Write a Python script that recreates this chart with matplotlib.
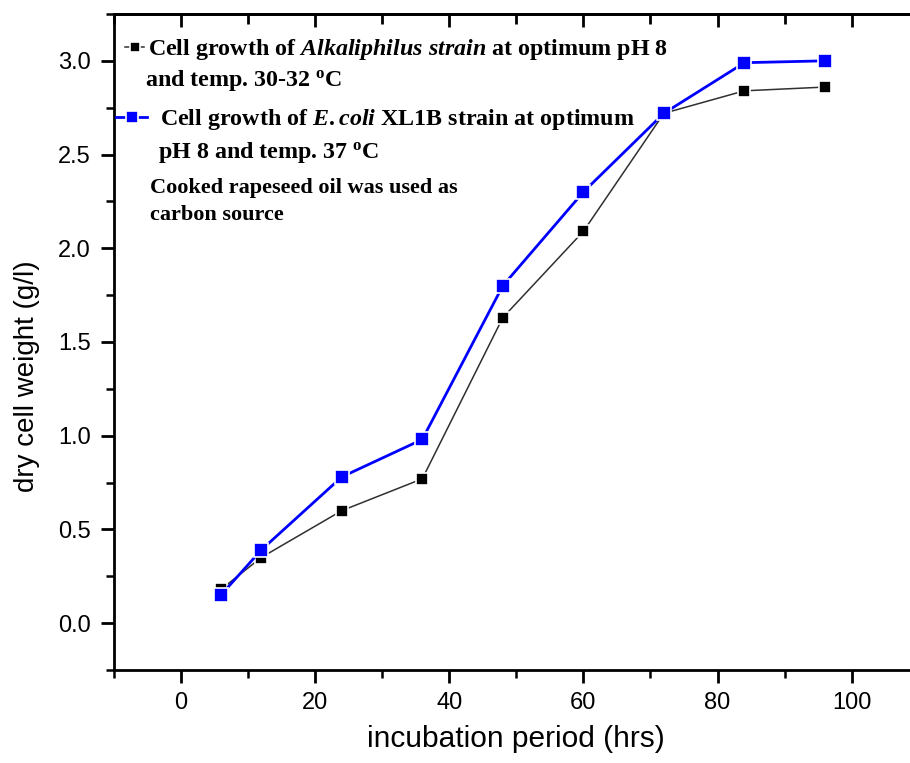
import matplotlib
matplotlib.use("Agg")
import matplotlib.pyplot as plt
from matplotlib.ticker import MultipleLocator

# incubation time (hrs) and dry cell weight (g/l)
hours = [6, 12, 24, 36, 48, 60, 72, 84, 96]
alkaliphilus = [0.18, 0.35, 0.60, 0.77, 1.63, 2.09, 2.72, 2.84, 2.86]
ecoli = [0.15, 0.39, 0.78, 0.98, 1.80, 2.30, 2.72, 2.99, 3.00]

alk_line1 = "Cell growth of $\\mathit{Alkaliphilus\\ strain}$ at optimum pH 8"
alk_line2 = "and temp. 30-32 $^{\\mathrm{o}}$C"
eco_line1 = "Cell growth of $\\mathit{E.coli}$ XL1B strain at optimum"
eco_line2 = "pH 8 and temp. 37 $^{\\mathrm{o}}$C"
note_line1 = "Cooked rapeseed oil was used as"
note_line2 = "carbon source"

plt.rcParams['mathtext.fontset'] = 'custom'
plt.rcParams['mathtext.rm'] = 'Liberation Serif:bold'
plt.rcParams['mathtext.it'] = 'Liberation Serif:bold:italic'
plt.rcParams['font.family'] = 'Liberation Sans'

fig = plt.figure(figsize=(9.10, 7.63), dpi=100)
ax = fig.add_axes([0.1248, 0.1219, 0.885, 0.8598])

l1, = ax.plot(hours, alkaliphilus, color='#303030', lw=1.1, marker='s', ms=9,
              mfc='black', mec='white', mew=1.2, zorder=3)
l2, = ax.plot(hours, ecoli, color='#0000ff', lw=2.0, marker='s', ms=9.5,
              mfc='#0000ff', mec='white', mew=1.2, zorder=4)

ax.set_xlim(-10, 110)
ax.set_ylim(-0.25, 3.25)
ax.xaxis.set_major_locator(MultipleLocator(20))
ax.xaxis.set_minor_locator(MultipleLocator(10))
ax.yaxis.set_major_locator(MultipleLocator(0.5))
ax.yaxis.set_minor_locator(MultipleLocator(0.25))
ax.tick_params(axis='both', which='major', labelsize=17, length=9.5, width=2.0, direction='out')
ax.tick_params(axis='both', which='minor', length=5.5, width=1.8, direction='out')
ax.tick_params(axis='x', which='major', pad=6)
ax.tick_params(axis='y', which='major', pad=7)
for s in ax.spines.values():
    s.set_linewidth(2.0)
ax.spines['right'].set_visible(False)

# mirrored ticks on top, pointing inward
top = ax.secondary_xaxis('top')
top.xaxis.set_major_locator(MultipleLocator(20))
top.xaxis.set_minor_locator(MultipleLocator(10))
top.tick_params(which='both', direction='in', labeltop=False, width=2.0)
top.tick_params(which='major', length=9)
top.tick_params(which='minor', length=7)
top.spines['top'].set_linewidth(2.0)

ax.set_xlabel("incubation period (hrs)", fontsize=21.5, labelpad=8)
ax.set_ylabel("dry cell weight (g/l)", fontsize=20, labelpad=13)
ax.yaxis.label.set_y(0.448)

lp = dict(family='Liberation Serif', weight='bold', size=17.3)
leg1 = ax.legend([l1], [alk_line1], loc='upper left', bbox_to_anchor=(0.0142, 0.965),
                 frameon=False, prop=lp, handlelength=0.8, handletextpad=0.15,
                 borderaxespad=0, borderpad=0, markerscale=0.8)
ax.add_artist(leg1)
ax.legend([l2], [eco_line1], loc='upper left', bbox_to_anchor=(0.0030, 0.858),
          frameon=False, prop=lp, handlelength=1.3, handletextpad=0.55,
          borderaxespad=0, borderpad=0, markerscale=0.9)

tk = dict(transform=ax.transAxes, ha='left', va='baseline', family='Liberation Serif',
          weight='bold')
ax.text(0.039, 0.890, alk_line2, size=17.3, **tk)
ax.text(0.0551, 0.7805, eco_line2, size=17.3, **tk)
ax.text(0.0452, 0.727, note_line1, size=16, **tk)
ax.text(0.0452, 0.686, note_line2, size=16, **tk)

fig.savefig("out.png", dpi=100)
